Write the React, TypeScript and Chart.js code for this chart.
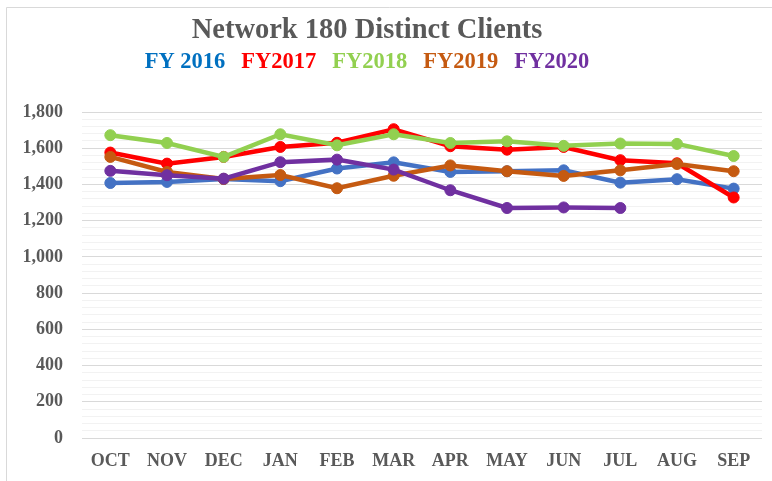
import React, { useEffect, useRef } from "react";
import { Chart, registerables } from "chart.js";

Chart.register(...registerables);

const months = ["OCT", "NOV", "DEC", "JAN", "FEB", "MAR", "APR", "MAY", "JUN", "JUL", "AUG", "SEP"];
const fy2016 = [1408, 1414, 1430, 1418, 1488, 1522, 1469, 1473, 1478, 1410, 1429, 1377];
const fy2017 = [1576, 1515, 1552, 1607, 1630, 1705, 1611, 1592, 1607, 1534, 1517, 1328];
const fy2018 = [1672, 1629, 1552, 1677, 1616, 1677, 1629, 1638, 1613, 1626, 1624, 1557];
const fy2019 = [1552, 1469, 1430, 1452, 1379, 1448, 1505, 1473, 1447, 1478, 1513, 1473];
const fy2020 = [1475, 1451, 1432, 1523, 1537, 1482, 1368, 1270, 1273, 1270, null, null];

const seriesNames = ["FY 2016", "FY2017", "FY2018", "FY2019", "FY2020"];
const lineColors = ["#4472C4", "#FF0000", "#92D050", "#C55A11", "#7030A0"];
const subtitleColors = ["#0070C0", "#FF0000", "#92D050", "#C55A11", "#7030A0"];
const titleText = "Network 180 Distinct Clients";

const FONT = "'Liberation Serif', 'Times New Roman', serif";
const GRAY = "#595959";

const decorPlugin = {
  id: "decor",
  beforeDraw(chart: any) {
    const ctx = chart.ctx;
    ctx.save();
    ctx.fillStyle = "#ffffff";
    ctx.fillRect(0, 0, chart.width, chart.height);
    ctx.strokeStyle = "#d9d9d9";
    ctx.lineWidth = 1;
    ctx.beginPath();
    ctx.moveTo(6.5, chart.height);
    ctx.lineTo(6.5, 7.5);
    ctx.lineTo(chart.width, 7.5);
    ctx.stroke();
    ctx.restore();
  },
  afterDraw(chart: any) {
    const ctx = chart.ctx;
    const cx = 367;
    ctx.save();
    ctx.textBaseline = "alphabetic";
    ctx.textAlign = "center";
    ctx.fillStyle = GRAY;
    ctx.font = `bold 28.5px ${FONT}`;
    ctx.fillText(titleText, cx, 38);
    ctx.font = `bold 22.5px ${FONT}`;
    const gap = 16;
    const widths = seriesNames.map((s) => ctx.measureText(s).width);
    const total = widths.reduce((a, b) => a + b, 0) + gap * (seriesNames.length - 1);
    let x = cx - total / 2;
    ctx.textAlign = "left";
    seriesNames.forEach((s, i) => {
      ctx.fillStyle = subtitleColors[i];
      ctx.fillText(s, x, 68);
      x += widths[i] + gap;
    });
    ctx.restore();
  },
};

export default function App() {
  const ref = useRef<HTMLCanvasElement | null>(null);
  useEffect(() => {
    if (!ref.current) return;
    const all = [fy2016, fy2017, fy2018, fy2019, fy2020];
    const chart = new Chart(ref.current, {
      type: "line",
      data: {
        labels: months,
        datasets: all.map((d, i) => ({
          label: seriesNames[i],
          data: d,
          borderColor: lineColors[i],
          backgroundColor: lineColors[i],
          pointBackgroundColor: lineColors[i],
          pointBorderColor: lineColors[i],
          borderWidth: 4.5,
          pointRadius: 5.5,
          pointBorderWidth: 1,
          tension: 0,
          spanGaps: false,
          order: all.length - 1 - i,
        })),
      },
      options: {
        responsive: false,
        animation: false,
        devicePixelRatio: 1,
        layout: { padding: { top: 112, right: 10, left: 0, bottom: 0 } },
        plugins: {
          legend: { display: false },
          title: { display: false },
          tooltip: { enabled: false },
        },
        scales: {
          x: {
            offset: true,
            grid: { display: false, drawTicks: false },
            border: { display: false },
            ticks: {
              padding: 13,
              color: GRAY,
              font: { family: FONT, size: 18, weight: "bold" },
              maxRotation: 0,
              autoSkip: false,
            },
            afterFit: (scale: any) => {
              scale.height = 43;
            },
          },
          y: {
            min: 0,
            max: 1800,
            border: { display: false },
            grid: {
              drawTicks: false,
              lineWidth: 1,
              color: (ctx: any) =>
                ctx.tick && ctx.tick.value % 200 === 0 ? "#d9d9d9" : "#f2f2f2",
            },
            ticks: {
              stepSize: 40,
              autoSkip: false,
              padding: 19,
              color: GRAY,
              font: { family: FONT, size: 18, weight: "bold" },
              callback: (v: any) => (Number(v) % 200 === 0 ? Number(v).toLocaleString("en-US") : ""),
            },
            afterFit: (scale: any) => {
              scale.width = 82;
            },
          },
        },
      },
      plugins: [decorPlugin],
    });
    return () => chart.destroy();
  }, []);
  return (
    <div style={{ position: "fixed", left: 0, top: 0, width: 772, height: 481, background: "#fff" }}>
      <canvas ref={ref} width={772} height={481} />
    </div>
  );
}
